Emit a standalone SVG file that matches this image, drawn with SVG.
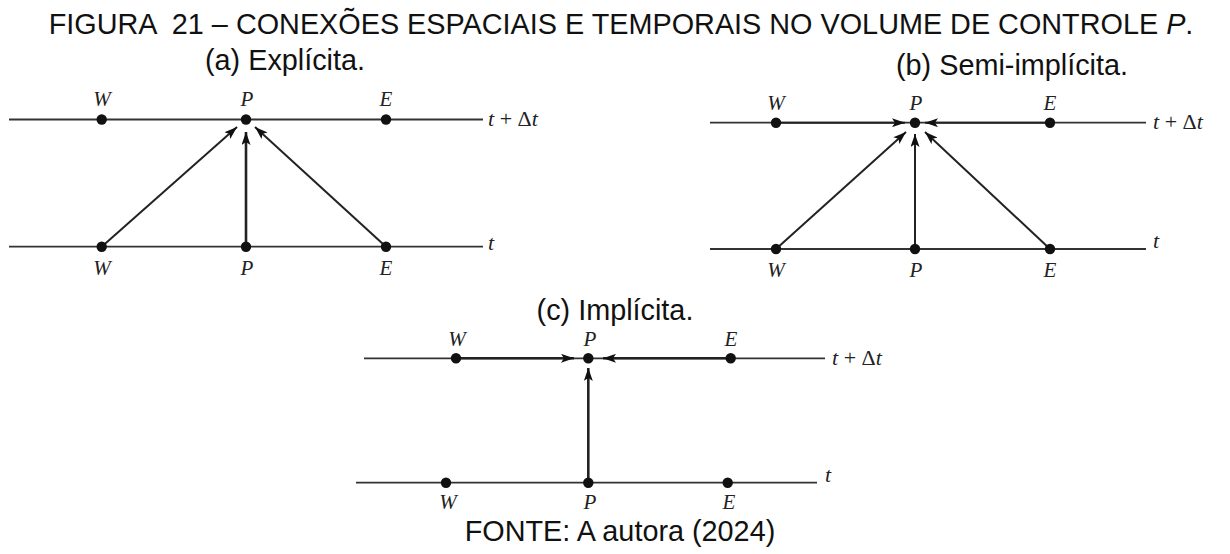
<svg xmlns="http://www.w3.org/2000/svg" width="1230" height="554" viewBox="0 0 1230 554">
<style>
.cap{font-family:"Liberation Sans",Arial,sans-serif;font-size:28.8px;fill:#111;white-space:pre}
.lbl{font-family:"Liberation Serif","Times New Roman",serif;font-style:italic;font-size:21px;fill:#222;text-anchor:middle}
.tl{font-family:"Liberation Serif","Times New Roman",serif;font-size:22px;fill:#222}
.it{font-style:italic}
.axis{stroke:#333;stroke-width:1.8;fill:none}
.arr{stroke:#222;stroke-width:2;fill:none;marker-end:url(#ah)}
.arrb{stroke:#222;stroke-width:2.6;fill:none;marker-end:url(#ah)}
.dot{fill:#111}
</style>
<defs>
<marker id="ah" markerUnits="userSpaceOnUse" markerWidth="14" markerHeight="9" refX="13" refY="4.5" orient="auto">
<path d="M0,0 L13,4.5 L0,9 L3,4.5 Z" fill="#111"/>
</marker>
</defs>
<rect width="1230" height="554" fill="#fff"/>
<text class="cap" x="621" y="34" text-anchor="middle" xml:space="preserve">FIGURA  21 – CONEXÕES ESPACIAIS E TEMPORAIS NO VOLUME DE CONTROLE <tspan font-style="italic">P</tspan>.</text>
<text class="cap" x="285" y="70" text-anchor="middle">(a) Explícita.</text>
<text class="cap" x="1012" y="75" text-anchor="middle">(b) Semi-implícita.</text>
<text class="cap" x="615" y="320" text-anchor="middle">(c) Implícita.</text>
<text class="cap" x="620" y="541" text-anchor="middle">FONTE: A autora (2024)</text>

<g id="panel-a">
<line class="axis" x1="9" y1="119.5" x2="483" y2="119.5"/>
<line class="axis" x1="9" y1="246.7" x2="483" y2="246.7"/>
<text class="tl" x="488" y="126"><tspan class="it">t</tspan> + Δ<tspan class="it">t</tspan></text>
<text class="tl it" x="488" y="250">t</text>
<g id="connectors-a">
<line class="arr" x1="101.7" y1="246.7" x2="237" y2="127"/>
<line class="arrb" x1="246" y1="246.7" x2="246" y2="132"/>
<line class="arr" x1="386" y1="246.7" x2="255" y2="127"/>
</g>
<g id="a-Wtop"><circle class="dot" cx="101.7" cy="119.5" r="5.2"/><text class="lbl" x="102" y="106">W</text></g>
<g id="a-Ptop"><circle class="dot" cx="246" cy="119.5" r="5.2"/><text class="lbl" x="247" y="106">P</text></g>
<g id="a-Etop"><circle class="dot" cx="386" cy="119.5" r="5.2"/><text class="lbl" x="386" y="106">E</text></g>
<g id="a-Wbot"><circle class="dot" cx="101.7" cy="246.7" r="5.2"/><text class="lbl" x="102" y="275">W</text></g>
<g id="a-Pbot"><circle class="dot" cx="246" cy="246.7" r="5.2"/><text class="lbl" x="247" y="275">P</text></g>
<g id="a-Ebot"><circle class="dot" cx="386" cy="246.7" r="5.2"/><text class="lbl" x="386" y="275">E</text></g>
</g>

<g id="panel-b">
<line class="axis" x1="710" y1="122.7" x2="1146" y2="122.7"/>
<line class="axis" x1="710" y1="249" x2="1146" y2="249"/>
<text class="tl" x="1153" y="129"><tspan class="it">t</tspan> + Δ<tspan class="it">t</tspan></text>
<text class="tl it" x="1153" y="248">t</text>
<g id="connectors-b">
<line class="arr" x1="776" y1="122.7" x2="905" y2="122.7"/>
<line class="arr" x1="1050" y1="122.7" x2="925" y2="122.7"/>
<line class="arr" x1="776" y1="249" x2="906" y2="132"/>
<line class="arr" x1="915" y1="249" x2="915" y2="134"/>
<line class="arr" x1="1050" y1="249" x2="925" y2="132"/>
</g>
<g id="b-Wtop"><circle class="dot" cx="776" cy="122.7" r="5.2"/><text class="lbl" x="776" y="110">W</text></g>
<g id="b-Ptop"><circle class="dot" cx="915" cy="122.7" r="5.2"/><text class="lbl" x="916" y="110">P</text></g>
<g id="b-Etop"><circle class="dot" cx="1050" cy="122.7" r="5.2"/><text class="lbl" x="1050" y="110">E</text></g>
<g id="b-Wbot"><circle class="dot" cx="776" cy="249" r="5.2"/><text class="lbl" x="776" y="277">W</text></g>
<g id="b-Pbot"><circle class="dot" cx="915" cy="249" r="5.2"/><text class="lbl" x="916" y="277">P</text></g>
<g id="b-Ebot"><circle class="dot" cx="1050" cy="249" r="5.2"/><text class="lbl" x="1050" y="277">E</text></g>
</g>

<g id="panel-c">
<line class="axis" x1="364" y1="358.3" x2="825" y2="358.3"/>
<line class="axis" x1="356" y1="482.7" x2="817" y2="482.7"/>
<text class="tl" x="832" y="365"><tspan class="it">t</tspan> + Δ<tspan class="it">t</tspan></text>
<text class="tl it" x="825" y="482">t</text>
<g id="connectors-c">
<line class="arrb" x1="456" y1="358.3" x2="574" y2="358.3"/>
<line class="arrb" x1="730.7" y1="358.3" x2="603" y2="358.3"/>
<line class="arrb" x1="588.3" y1="482.7" x2="588.3" y2="368"/>
</g>
<g id="c-Wtop"><circle class="dot" cx="456" cy="358.3" r="5.2"/><text class="lbl" x="457" y="346">W</text></g>
<g id="c-Ptop"><circle class="dot" cx="588.3" cy="358.3" r="5.2"/><text class="lbl" x="590" y="346">P</text></g>
<g id="c-Etop"><circle class="dot" cx="730.7" cy="358.3" r="5.2"/><text class="lbl" x="731" y="346">E</text></g>
<g id="c-Wbot"><circle class="dot" cx="446" cy="482.7" r="5.2"/><text class="lbl" x="448" y="509">W</text></g>
<g id="c-Pbot"><circle class="dot" cx="588.3" cy="482.7" r="5.2"/><text class="lbl" x="590" y="509">P</text></g>
<g id="c-Ebot"><circle class="dot" cx="727.7" cy="482.7" r="5.2"/><text class="lbl" x="729" y="509">E</text></g>
</g>
</svg>
